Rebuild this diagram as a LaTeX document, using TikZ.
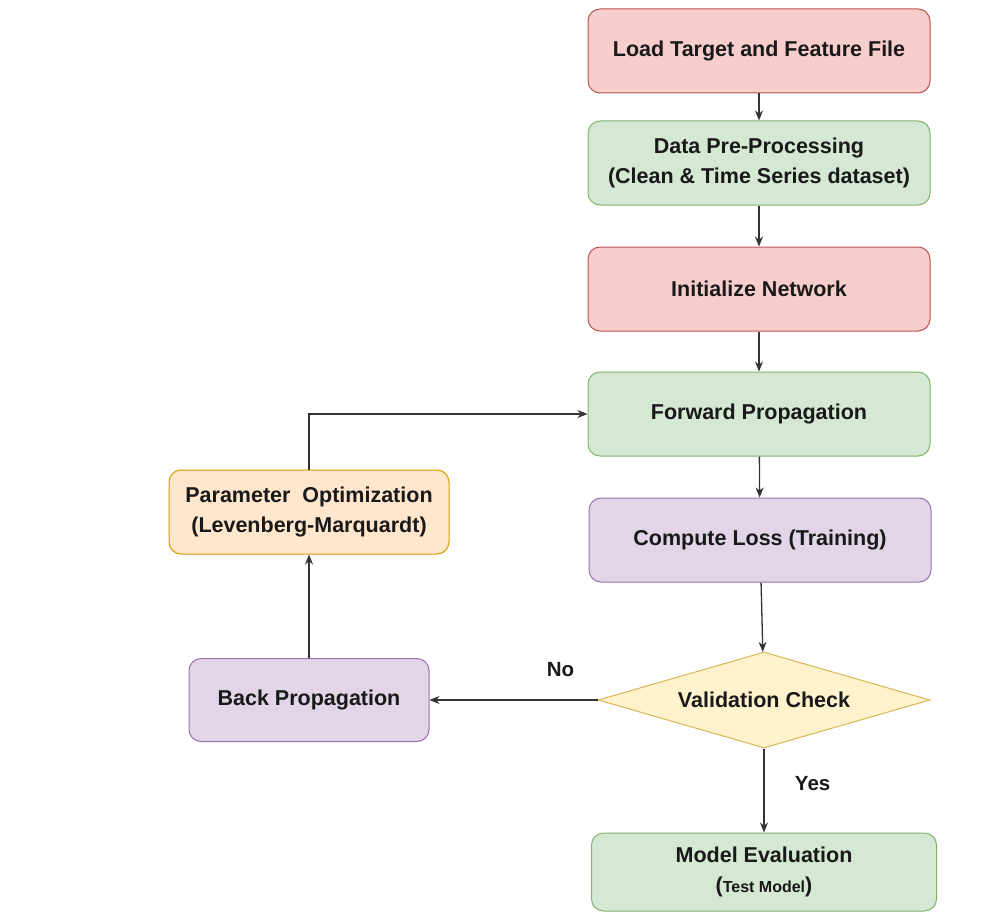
\documentclass[tikz,border=0pt]{standalone}
\usepackage{fontspec}
\setmainfont{Liberation Sans}
\usetikzlibrary{positioning}
\usetikzlibrary{arrows.meta,shapes.geometric}
\definecolor{redfill}{HTML}{F8CECC}
\definecolor{redline}{HTML}{B85450}
\definecolor{greenfill}{HTML}{D5E8D4}
\definecolor{greenline}{HTML}{82B366}
\definecolor{purplefill}{HTML}{E1D5E7}
\definecolor{purpleline}{HTML}{9673A6}
\definecolor{orangefill}{HTML}{FFE6CC}
\definecolor{orangeline}{HTML}{D79B00}
\definecolor{yellowfill}{HTML}{FFF2CC}
\definecolor{yellowline}{HTML}{D6B656}
\definecolor{inkgray}{HTML}{333333}
\tikzstyle{block}=[rectangle,rounded corners=12pt,draw,line width=1pt,minimum width=342pt,minimum height=84pt,align=center,text=black!90,font=\bfseries\fontsize{21.5}{30}\selectfont]
\tikzstyle{redblock}=[block,fill=redfill,draw=redline]
\tikzstyle{greenblock}=[block,fill=greenfill,draw=greenline]
\tikzstyle{purpleblock}=[block,fill=purplefill,draw=purpleline]
\tikzstyle{orangeblock}=[block,fill=orangefill,draw=orangeline]
\tikzstyle{decision}=[diamond,aspect=3.46,inner sep=0pt,draw=yellowline,fill=yellowfill,line width=1pt,minimum width=332pt,minimum height=96pt,text=black!90,font=\bfseries\fontsize{21.5}{30}\selectfont]
\tikzstyle{edge} = [draw,line width=1.3pt,inkgray,-{Stealth[length=10pt,width=8pt]}]
\tikzstyle{answer} = [text=black!90,font=\bfseries\fontsize{20.5}{24}\selectfont]

\begin{document}
\begin{tikzpicture}[x=1pt,y=-1pt]
    \useasboundingbox (0,0) rectangle (981,912);

    % First we draw the main column of steps
    \foreach \pos/\name/\kind/\label in {{(759,51)/load/redblock/Load Target and Feature File}, {(759,163)/prep/greenblock/{Data Pre-Processing\\(Clean \& Time Series dataset)}}, {(759,289)/init/redblock/Initialize Network}, {(759,414)/forward/greenblock/Forward Propagation}, {(760,540)/loss/purpleblock/Compute Loss (Training)}}
        \node[\kind] (\name) at \pos {\label};

    \node[decision] (check) at (764,700) {Validation Check};
    \node[greenblock,minimum width=345pt,minimum height=78pt] (eval) at (764,872)
        {Model Evaluation\\(\fontsize{16}{18}\selectfont Test Model\fontsize{21.5}{30}\selectfont)};

    % The loop on the left
    \node[orangeblock,minimum width=280pt] (param) at (309,512) {Parameter~~Optimization\\(Levenberg-Marquardt)};
    \node[purpleblock,minimum width=240pt,minimum height=83pt] (backprop) at (309,700) {Back Propagation};

    % Connect the steps
    \foreach \source/\dest in {load/prep, prep/init, init/forward, forward/loss, loss/check}
        \path[edge] (\source) -- (\dest);
    \path[edge] (check) -- node[answer,pos=0.22,above=19pt] {No} (backprop);
    \path[edge] (check) -- node[answer,pos=0.42,right=27pt] {Yes} (eval);
    \path[edge] (backprop) -- (param);
    \path[edge] (param.north) |- (forward.west);

\end{tikzpicture}
\end{document}
